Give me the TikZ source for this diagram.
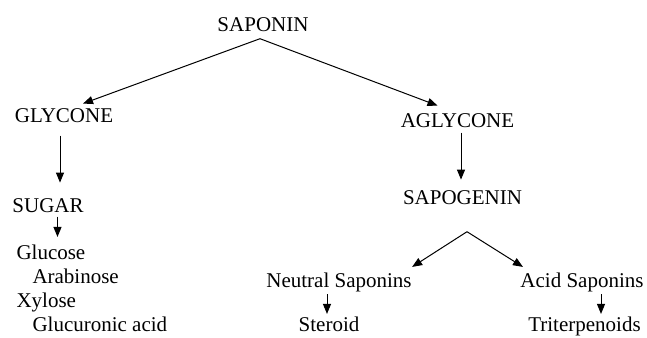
\documentclass[tikz,border=0pt]{standalone}
\usepackage{fontspec}
\setmainfont{Liberation Serif}
\usetikzlibrary{arrows.meta}

\begin{document}
\begin{tikzpicture}
[x=1pt,y=-1pt,>={Triangle[length=10pt,width=8pt]},line width=1pt,%
  lbl/.style={inner sep=0pt,anchor=base},
  lblw/.style={inner sep=0pt,anchor=base west}]
\fontsize{21}{25}\selectfont
\useasboundingbox (0,0) rectangle (647,337);
%% nodes
\node[lbl] (sap) at (263,32) {SAPONIN};
\node[lbl] (gly) at (64,122) {GLYCONE};
\node[lbl] (agly) at (457.5,127) {AGLYCONE};
\node[lblw] (sug) at (12,212) {SUGAR};
\node[lblw] (glu) at (16,259) {Glucose};
\node[lblw] (ara) at (32,283) {Arabinose};
\node[lblw] (xyl) at (16,307) {Xylose};
\node[lblw] (glc) at (32,331) {Glucuronic acid};
\node[lbl] (sapog) at (462.5,204) {SAPOGENIN};
\node[lbl] (neut) at (339,287) {Neutral Saponins};
\node[lbl] (acid) at (582,287) {Acid Saponins};
\node[lbl] (ster) at (329,331) {Steroid};
\node[lbl] (trit) at (584.5,331) {Triterpenoids};
%% branch points and arrow ends
\coordinate (top) at ([xshift=-3pt,yshift=-6pt]sap.south);
\coordinate (fork) at ([xshift=4.5pt,yshift=-27pt]sapog.south);
\coordinate (g1) at ([xshift=-4pt,yshift=-13pt]gly.south);
\coordinate (g2) at ([yshift=15pt]sug.north);
\coordinate (s1) at ([xshift=9.4pt,yshift=-4pt]sug.south);
\coordinate (s2) at ([yshift=7pt]glu.north);
\coordinate (a1) at ([xshift=3.5pt,yshift=-5pt]agly.south);
\coordinate (a2) at ([yshift=10pt]sapog.north);
\coordinate (n1) at ([xshift=-12pt,yshift=-2.5pt]neut.south);
\coordinate (n2) at ([yshift=2pt]ster.north);
\coordinate (c1) at ([xshift=19pt,yshift=-2.5pt]acid.south);
\coordinate (c2) at ([yshift=2pt]trit.north);
%% arrows
\path[->]
(top) edge ([xshift=19pt,yshift=4pt]gly.north)
(top) edge ([xshift=-20pt,yshift=7pt]agly.north)
(g1) edge (g1 |- g2)
(s1) edge (s1 |- s2)
(a1) edge (a1 |- a2)
(fork) edge ([yshift=5pt]neut.north east)
(fork) edge ([xshift=3pt,yshift=5pt]acid.north west)
(n1) edge (n1 |- n2)
(c1) edge (c1 |- c2);
\end{tikzpicture}
\end{document}
